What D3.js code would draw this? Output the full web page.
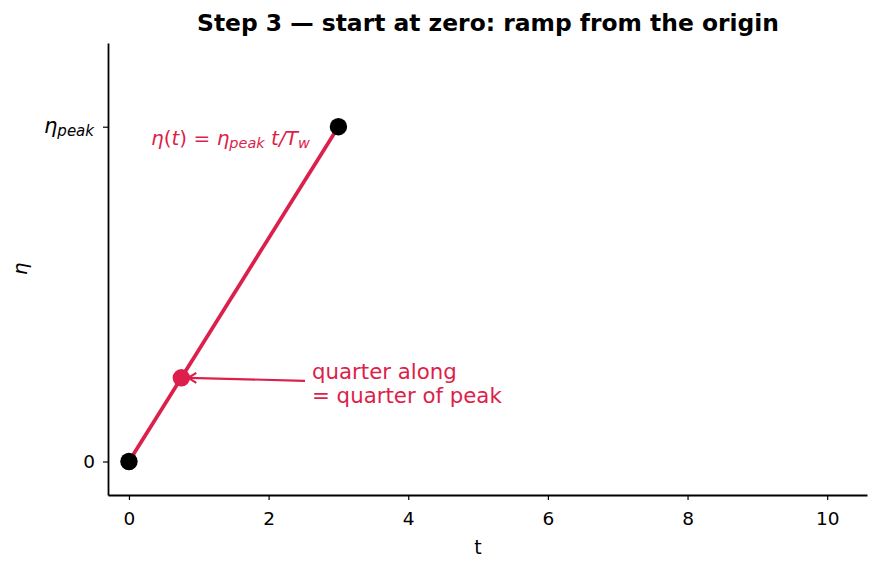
<!DOCTYPE html>
<html><head><meta charset="utf-8">
<script src="https://cdn.jsdelivr.net/npm/d3@7"></script>
<style>body{margin:0;background:#fff}svg{font-family:"DejaVu Sans",sans-serif}</style>
</head><body><svg id="c" width="881" height="571"></svg>
<script>
const rampT = [0, 3];
const rampEta = [0, 1];
const endT = [0, 3];
const endEta = [0, 1];
const quarterT = [0.75];
const quarterEta = [0.25];
const xTicks = [0, 2, 4, 6, 8, 10];
const yTicks = [0, 1];
const title = "Step 3 \u2014 start at zero: ramp from the origin";
const noteLines = ["quarter along", "= quarter of peak"];

const svg = d3.select("#c");
const red = "#dc1f4b";
const x = d3.scaleLinear().domain([-0.3, 10.57]).range([108, 867]);
const y = d3.scaleLinear().domain([-0.1, 1.25]).range([495, 43]);

// axes
const xa = svg.append("g").attr("transform", "translate(0,495)")
  .call(d3.axisBottom(x).tickValues(xTicks).tickSize(5).tickPadding(8).tickSizeOuter(0));
const ya = svg.append("g").attr("transform", "translate(108,0)")
  .call(d3.axisLeft(y).tickValues(yTicks).tickSize(5).tickPadding(8).tickSizeOuter(0).tickFormat(d => d === 0 ? "0" : ""));
[xa, ya].forEach(a => {
  a.attr("font-size", 18).attr("font-family", "DejaVu Sans");
  a.select(".domain").attr("stroke", "#000").attr("stroke-width", 1.8);
  a.selectAll(".tick line").attr("stroke", "#000").attr("stroke-width", 1.2);
  a.selectAll("text").style("font-size", "18.5px").attr("fill", "#000");
});
xa.selectAll("text").attr("dy", "0.9em");
// eta_peak tick label
const tl = svg.append("text").attr("x", 94).attr("y", y(1) + 6).attr("text-anchor", "end")
  .style("font-size", "21px").attr("font-style", "italic");
tl.append("tspan").text("\u03b7");
tl.append("tspan").style("font-size", "15px").attr("dy", 3).text("peak");

// labels
svg.append("text").attr("x", x(5)).attr("y", 554).attr("text-anchor", "middle").style("font-size", "19px").text("t");
svg.append("text").attr("transform", `translate(27,${y(0.575)}) rotate(-90)`).attr("text-anchor", "middle")
  .style("font-size", "20px").attr("font-style", "italic").text("\u03b7");
svg.append("text").attr("x", 488).attr("y", 31).attr("text-anchor", "middle").style("font-size", "23.4px")
  .attr("font-weight", "bold").text(title);

// ramp line
svg.append("path").datum(rampT.map((t, i) => [t, rampEta[i]]))
  .attr("d", d3.line().x(d => x(d[0])).y(d => y(d[1])))
  .attr("stroke", red).attr("stroke-width", 3.7).attr("fill", "none");

// endpoints
svg.selectAll(".ep").data(endT.map((t, i) => [t, endEta[i]])).enter().append("circle")
  .attr("cx", d => x(d[0])).attr("cy", d => y(d[1])).attr("r", 8.7).attr("fill", "#000");
// quarter point
svg.selectAll(".qp").data(quarterT.map((t, i) => [t, quarterEta[i]])).enter().append("circle")
  .attr("cx", d => x(d[0])).attr("cy", d => y(d[1])).attr("r", 8.7).attr("fill", red);

// formula
const f = svg.append("text").attr("x", 151).attr("y", 145).style("font-size", "20px").attr("fill", red);
f.append("tspan").attr("font-style", "italic").text("\u03b7");
f.append("tspan").text("(");
f.append("tspan").attr("font-style", "italic").text("t");
f.append("tspan").text(") = ");
f.append("tspan").attr("font-style", "italic").text("\u03b7");
f.append("tspan").attr("font-style", "italic").style("font-size", "14.5px").attr("dy", 3).text("peak");
f.append("tspan").attr("font-style", "italic").attr("dy", -3).text(" t/T");
f.append("tspan").attr("font-style", "italic").style("font-size", "14.5px").attr("dy", 3).text("w");

// annotation arrow
const ax0 = x(quarterT[0]) + 6, ay0 = y(quarterEta[0]);
const tx = 305, ty = y(quarterEta[0]) + 3;
svg.append("line").attr("x1", tx).attr("y1", ty).attr("x2", ax0 + 1).attr("y2", ay0)
  .attr("stroke", red).attr("stroke-width", 2.2);
svg.append("path").attr("d", `M${ax0 + 9},${ay0 - 5} L${ax0 + 1},${ay0} L${ax0 + 9},${ay0 + 5}`)
  .attr("stroke", red).attr("stroke-width", 2.2).attr("fill", "none");
const nt = svg.append("text").attr("x", 312).attr("y", 379).style("font-size", "21.3px").attr("fill", red);
noteLines.forEach((l, i) => nt.append("tspan").attr("x", 312).attr("dy", i ? 24 : 0).text(l));
</script></body></html>
